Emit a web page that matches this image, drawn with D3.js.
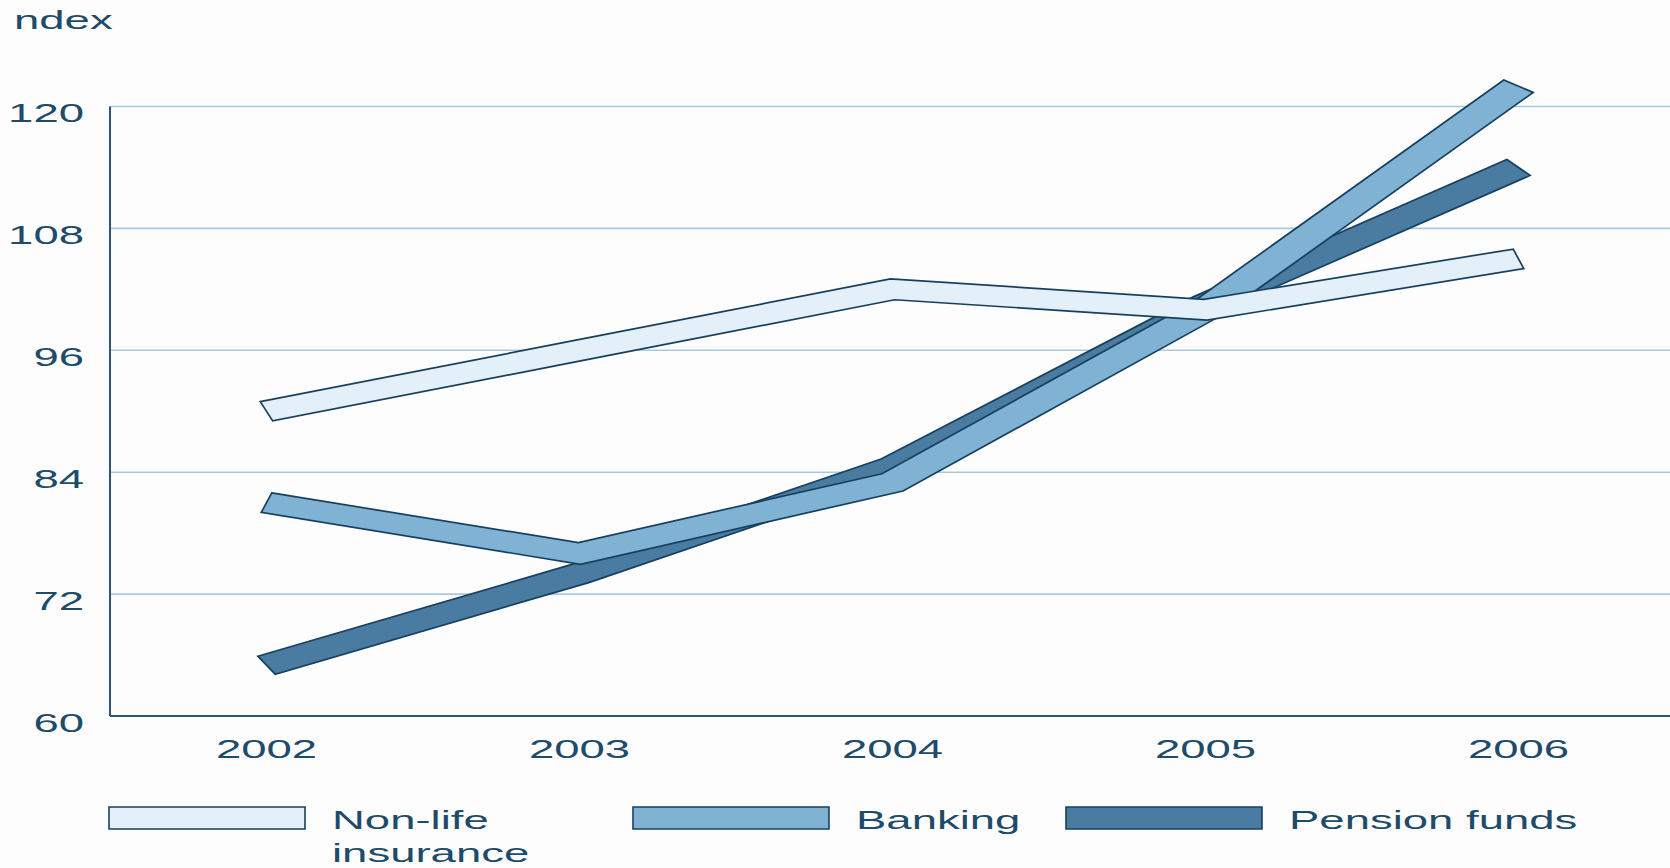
<!DOCTYPE html>
<html>
<head>
<meta charset="utf-8">
<script src="https://cdn.jsdelivr.net/npm/d3@7"></script>
<style>
  body { margin: 0; background: #fdfdfd; }
  svg { display: block; }
  text { font-family: "Liberation Sans", Arial, sans-serif; fill: #1e4b6a; font-size: 25px; }
</style>
</head>
<body>
<svg id="chart"></svg>
<script>
const years = ["2002", "2003", "2004", "2005", "2006"];
const nonLife = [90, 96, 102, 100, 105];
const banking = [81, 76, 83, 100, 122];
const pension = [65, 74, 84.5, 100.5, 114];
const yTicks = [60, 72, 84, 96, 108, 120];

const legendLabels = [["Non-life", "insurance"], ["Banking"], ["Pension funds"]];
const fills = ["#e3eff9", "#80b2d4", "#4a7ba0"];
const outline = "#17405f";

const width = 1670;
const height = 868;
// the original picture is squeezed in x and then stretched back out
const stretch = 1.82;
const left = 110;
const bandRight = 1675;

const svg = d3.select("#chart").attr("width", width).attr("height", height);
const g = svg.append("g").attr("transform", `scale(${stretch},1)`);

const x = d3.scalePoint().domain(years).range([left / stretch, bandRight / stretch]).padding(0.5);
const y = d3.scaleLinear().domain([60, 120]).range([716, 106.5]);

// grid
g.selectAll(".grid")
  .data(yTicks.filter((d) => d > 60))
  .enter()
  .append("line")
  .attr("class", "grid")
  .attr("x1", left / stretch)
  .attr("x2", width / stretch)
  .attr("y1", (d) => y(d))
  .attr("y2", (d) => y(d))
  .attr("stroke", "#a9c9e1")
  .attr("stroke-width", 1.6)
  .attr("vector-effect", "non-scaling-stroke");

// axes
g.append("line")
  .attr("x1", left / stretch).attr("x2", left / stretch)
  .attr("y1", y(120)).attr("y2", y(60))
  .attr("stroke", "#2e5574").attr("stroke-width", 2)
  .attr("vector-effect", "non-scaling-stroke");
g.append("line")
  .attr("x1", left / stretch).attr("x2", width / stretch)
  .attr("y1", y(60)).attr("y2", y(60))
  .attr("stroke", "#2e5574").attr("stroke-width", 2)
  .attr("vector-effect", "non-scaling-stroke");

g.selectAll(".ytick")
  .data(yTicks)
  .enter()
  .append("text")
  .attr("class", "ytick")
  .attr("x", 84 / stretch)
  .attr("y", (d) => y(d) + 16)
  .attr("text-anchor", "end")
  .text((d) => d);

g.selectAll(".xtick")
  .data(years)
  .enter()
  .append("text")
  .attr("class", "xtick")
  .attr("x", (d) => x(d))
  .attr("y", 758)
  .attr("text-anchor", "middle")
  .text((d) => d);

g.append("text").attr("x", 14 / stretch).attr("y", 29).text("ndex");

// thick ribbon around a polyline, miter joins, square cut ends
function ribbon(pts, hw) {
  const n = pts.length;
  const normals = [];
  for (let i = 0; i < n - 1; i++) {
    const dx = pts[i + 1][0] - pts[i][0];
    const dy = pts[i + 1][1] - pts[i][1];
    const L = Math.hypot(dx, dy);
    normals.push([dy / L, -dx / L]);
  }
  const top = [];
  const bot = [];
  pts.forEach((p, i) => {
    let nx, ny;
    if (i === 0) [nx, ny] = normals[0];
    else if (i === n - 1) [nx, ny] = normals[n - 2];
    else {
      const a = normals[i - 1];
      const b = normals[i];
      let mx = a[0] + b[0];
      let my = a[1] + b[1];
      const ml = Math.hypot(mx, my);
      mx /= ml;
      my /= ml;
      const k = 1 / (mx * a[0] + my * a[1]);
      nx = mx * k;
      ny = my * k;
    }
    top.push([p[0] + nx * hw, p[1] + ny * hw]);
    bot.push([p[0] - nx * hw, p[1] - ny * hw]);
  });
  return top.concat(bot.reverse());
}

const closed = d3.line().curve(d3.curveLinearClosed);
const seriesList = [nonLife, banking, pension];

// pension first, non-life on top
[2, 1, 0].forEach((si) => {
  const pts = years.map((yr, i) => [x(yr), y(seriesList[si][i])]);
  g.append("path")
    .attr("d", closed(ribbon(pts, 10.2)))
    .attr("fill", fills[si])
    .attr("stroke", outline)
    .attr("stroke-width", 1.7)
    .attr("stroke-linejoin", "miter")
    .attr("vector-effect", "non-scaling-stroke");
});

// legend
const legendX = [109, 633, 1066];
legendX.forEach((lx, i) => {
  g.append("rect")
    .attr("x", lx / stretch)
    .attr("y", 807)
    .attr("width", 196 / stretch)
    .attr("height", 22)
    .attr("fill", fills[i])
    .attr("stroke", outline)
    .attr("stroke-width", 1.6)
    .attr("vector-effect", "non-scaling-stroke");
  const t = g.append("text").attr("y", 829);
  legendLabels[i].forEach((line, j) => {
    t.append("tspan")
      .attr("x", (lx + 196 + 27) / stretch)
      .attr("dy", j === 0 ? 0 : 33)
      .text(line);
  });
});
</script>
</body>
</html>
